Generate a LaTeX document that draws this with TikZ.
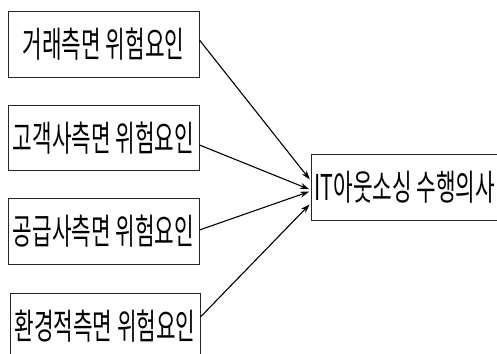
\documentclass[tikz,border=0pt]{standalone}
\usepackage{fontspec}
\newfontfamily\kr[FakeStretch=0.6]{Noto Sans CJK KR}
\usetikzlibrary{arrows.meta}
\tikzset{
  box/.style={draw=black!85, line width=0.9pt, inner sep=0pt, minimum height=65.5pt, font=\kr\fontsize{35.5}{37}\selectfont},
  conn/.style={draw=black, line width=1.1pt, -{Stealth[length=9pt,width=6pt]}, shorten >=2pt}
}
\begin{document}
\begin{tikzpicture}[x=1pt,y=-1pt]
\useasboundingbox (0,0) rectangle (497,353);
\node[box, minimum width=191pt] (b1) at (103.5,44.5) {\raisebox{-3pt}{거래측면 위험요인}};
\node[box, minimum width=191pt] (b2) at (103.5,138) {\raisebox{-3pt}{고객사측면 위험요인}};
\node[box, minimum width=191pt] (b3) at (103.5,231.5) {\raisebox{-3pt}{공급사측면 위험요인}};
\node[box, minimum width=190pt] (b4) at (105,326) {\raisebox{-2pt}{환경적측면 위험요인}};
\node[box, minimum width=199pt, anchor=west] (t) at (311,187.5) {\makebox[193pt][l]{\raisebox{-2.5pt}{IT아웃소싱 수행의사}}};
\draw[conn] ([yshift=4.5pt]b1.east) -- ([yshift=6.5pt]t.west);
\draw[conn] ([yshift=-7pt]b2.east) -- ([yshift=-2.5pt]t.west);
\draw[conn] ([yshift=1.5pt]b3.east) -- ([yshift=-3.5pt]t.west);
\draw[conn] ([yshift=9pt]b4.east) -- ([yshift=-15.5pt]t.west);
\end{tikzpicture}
\end{document}
